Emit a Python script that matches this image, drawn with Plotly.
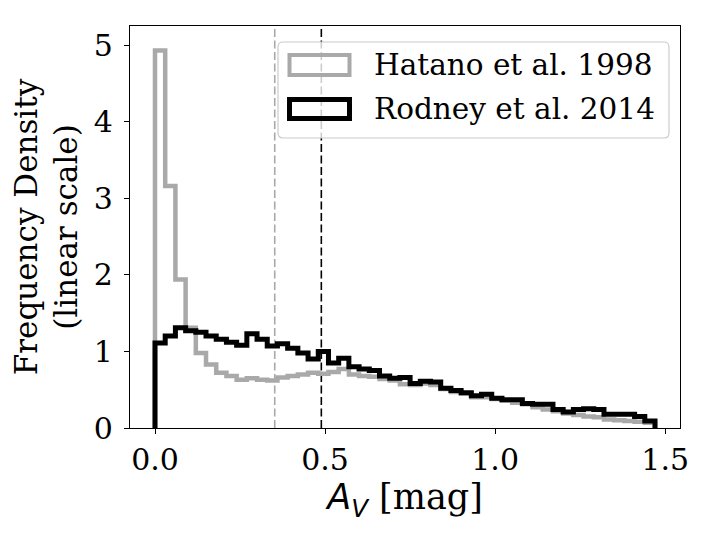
import numpy as np
import plotly.graph_objects as go

# ---- data ----
BIN_START = 0.0
BIN_END = 1.47
N_BINS = 49
SERIES_NAMES = ["Hatano et al. 1998", "Rodney et al. 2014"]

hatano_density = [4.93, 3.16, 1.94, 1.31, 0.98, 0.83, 0.72, 0.68, 0.63, 0.65,
                  0.63, 0.62, 0.66, 0.68, 0.70, 0.72, 0.71, 0.73, 0.77, 0.70,
                  0.68, 0.67, 0.64, 0.62, 0.57, 0.56, 0.58, 0.56, 0.51, 0.47,
                  0.45, 0.40, 0.40, 0.38, 0.36, 0.33, 0.31, 0.27, 0.24, 0.22,
                  0.19, 0.17, 0.15, 0.14, 0.11, 0.10, 0.09, 0.08, 0.07]
rodney_density = [1.11, 1.20, 1.31, 1.27, 1.25, 1.20, 1.16, 1.12, 1.08, 1.23,
                  1.16, 1.07, 1.10, 1.04, 0.98, 0.90, 1.00, 0.85, 0.91, 0.80,
                  0.77, 0.75, 0.68, 0.65, 0.66, 0.58, 0.61, 0.60, 0.52, 0.49,
                  0.46, 0.42, 0.44, 0.39, 0.37, 0.37, 0.32, 0.31, 0.31, 0.24,
                  0.21, 0.24, 0.25, 0.24, 0.18, 0.18, 0.18, 0.15, 0.09]
hatano_mean = 0.352
rodney_mean = 0.489

x_ticks = [0.0, 0.5, 1.0, 1.5]
y_ticks = [0, 1, 2, 3, 4, 5]

GRAY = "#a9a9a9"
BLACK = "#000000"
FONT = "DejaVu Serif"

edges = np.linspace(BIN_START, BIN_END, N_BINS + 1)


def step_xy(vals):
    xs = [edges[0]] + list(edges[:-1]) + [edges[-1]]
    ys = [0.0] + list(vals) + [0.0]
    return xs, ys


fig = go.Figure()
for vals, color, width, name in [(hatano_density, GRAY, 4.5, SERIES_NAMES[0]),
                                 (rodney_density, BLACK, 5, SERIES_NAMES[1])]:
    xs, ys = step_xy(vals)
    fig.add_trace(go.Scatter(x=xs, y=ys, mode="lines", line_shape="hv",
                             line=dict(color=color, width=width), name=name,
                             showlegend=False))

# mean lines
for m, color in [(hatano_mean, GRAY), (rodney_mean, BLACK)]:
    fig.add_shape(type="line", xref="x", yref="paper", x0=m, x1=m, y0=0, y1=1,
                  line=dict(color=color, width=1.6, dash="8px,3.5px"), layer="below")

# ---- manual legend (reference-pixel geometry converted to paper coords) ----
L, R, T, B = 130, 680, 26, 428      # plot area in the reference picture
OFF = 8                              # page body offset
PW, PH = R - L, B - T


def px(xp):
    return (xp - L) / PW


def py(yp):
    return (B - yp) / PH


def rounded_rect(x0, y0, x1, y1, r):
    X = lambda v: f"{px(v):.5f}"
    Y = lambda v: f"{py(v):.5f}"
    return (f"M {X(x0 + r)},{Y(y0)} L {X(x1 - r)},{Y(y0)} Q {X(x1)},{Y(y0)} {X(x1)},{Y(y0 + r)} "
            f"L {X(x1)},{Y(y1 - r)} Q {X(x1)},{Y(y1)} {X(x1 - r)},{Y(y1)} "
            f"L {X(x0 + r)},{Y(y1)} Q {X(x0)},{Y(y1)} {X(x0)},{Y(y1 - r)} "
            f"L {X(x0)},{Y(y0 + r)} Q {X(x0)},{Y(y0)} {X(x0 + r)},{Y(y0)} Z")


fig.add_shape(type="path", xref="paper", yref="paper",
              path=rounded_rect(278, 42, 669, 138, 5),
              fillcolor="rgba(255,255,255,0.8)", line=dict(color="#cccccc", width=1.2),
              layer="above")
legend_rows = [(SERIES_NAMES[0], GRAY, 4, 55, 75, 65),
               (SERIES_NAMES[1], BLACK, 5, 99.5, 118.5, 109)]
for name, color, w, yt, yb, yc in legend_rows:
    fig.add_shape(type="rect", xref="paper", yref="paper",
                  x0=px(289.5), x1=px(349.5), y0=py(yb), y1=py(yt),
                  line=dict(color=color, width=w), fillcolor="rgba(0,0,0,0)",
                  layer="above")
    fig.add_annotation(xref="paper", yref="paper", x=px(372), y=py(yc),
                       text=name, showarrow=False, xanchor="left", yanchor="middle",
                       font=dict(family=FONT, size=29.5, color="black"))

fig.update_layout(
    width=706, height=540,
    margin=dict(l=L - OFF, r=706 - R + OFF, t=T - OFF, b=540 - B + OFF),
    paper_bgcolor="white", plot_bgcolor="white",
    font=dict(family=FONT, size=30, color="black"),
    showlegend=False,
)
fig.update_xaxes(range=[-0.0735, 1.5435], tickvals=x_ticks,
                 ticktext=[f"{v:.1f}" for v in x_ticks],
                 tickfont=dict(family=FONT, size=30),
                 showgrid=False, zeroline=False, showline=True, mirror=True,
                 linecolor="black", linewidth=1.3, ticks="outside", ticklen=5,
                 tickwidth=1.3, tickcolor="black",
                 title=dict(text="<span style='font-family:DejaVu Sans'><i>A</i><sub><i>V</i></sub></span> [mag]",
                            font=dict(family=FONT, size=35), standoff=6))
fig.update_yaxes(range=[0, 5.25], tickvals=y_ticks,
                 tickfont=dict(family=FONT, size=30),
                 ticklabelstandoff=5,
                 showgrid=False, zeroline=False, showline=True, mirror=True,
                 linecolor="black", linewidth=1.3, ticks="outside", ticklen=5,
                 tickwidth=1.3, tickcolor="black",
                 title=dict(text="Frequency Density<br>(linear scale)",
                            font=dict(family=FONT, size=31), standoff=6))

fig.write_html("out.html")
